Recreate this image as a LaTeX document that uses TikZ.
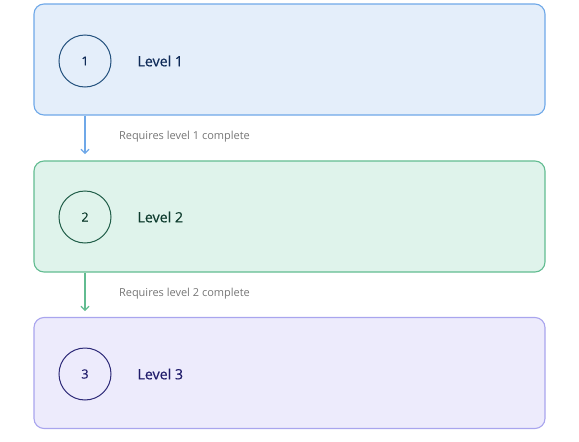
\documentclass[tikz,border=0pt]{standalone}
\usepackage{fontspec}
\setmainfont{Open Sans}
\newfontfamily\medfont{Open Sans}[FakeBold=0.5]
\usetikzlibrary{arrows.meta}
\definecolor{bAfill}{HTML}{E4EEFA}
\definecolor{bAdraw}{HTML}{6FA8E8}
\definecolor{bBfill}{HTML}{DFF3EB}
\definecolor{bBdraw}{HTML}{62BC91}
\definecolor{bCfill}{HTML}{EDEBFC}
\definecolor{bCdraw}{HTML}{A9A5EE}
\definecolor{cAdraw}{HTML}{24527E}
\definecolor{cBdraw}{HTML}{215E49}
\definecolor{cCdraw}{HTML}{2E2A78}
\definecolor{tA}{HTML}{0E2A57}
\definecolor{tB}{HTML}{0D3B2D}
\definecolor{tC}{HTML}{201C6B}
\definecolor{lblgray}{HTML}{767676}
\tikzset{
  x=1pt,y=1pt,
  levelbox/.style={draw=#1, rounded corners=10pt, line width=1.1pt, minimum width=511pt, minimum height=111pt, inner sep=0pt},
  numcirc/.style={circle, line width=1pt, minimum size=52pt, inner sep=0pt, font=\medfont\fontsize{12.5}{14}\selectfont},
  leveltext/.style={anchor=west, font=\medfont\fontsize{14.2}{16}\selectfont},
  req/.style={anchor=west, font=\fontsize{11}{13}\selectfont, text=lblgray},
  conn/.style={line width=1.1pt, -{Straight Barb[length=4pt,width=8pt]}},
}
\begin{document}
\begin{tikzpicture}
\useasboundingbox (0,0) rectangle (579,-442);
\node[levelbox=bAdraw, fill=bAfill] (box1) at (289.5,-59.5) {};
\node[levelbox=bBdraw, fill=bBfill] (box2) at (289.5,-216.5) {};
\node[levelbox=bCdraw, fill=bCfill] (box3) at (289.5,-373) {};
\node[numcirc, draw=cAdraw, text=tA] (c1) at (85,-61) {1};
\node[numcirc, draw=cBdraw, text=tB] (c2) at (85,-217) {2};
\node[numcirc, draw=cCdraw, text=tC] (c3) at (85,-374) {3};
\node[leveltext, text=tA] (t1) at (134,-61) {Level 1};
\node[leveltext, text=tB] (t2) at (134,-217) {Level 2};
\node[leveltext, text=tC] (t3) at (134,-374) {Level 3};
\coordinate (a1e) at (85,-154);
\coordinate (a2e) at (85,-311);
\draw[conn, draw=bAdraw] (box1.south -| c1) -- (a1e);
\draw[conn, draw=bBdraw] (box2.south -| c2) -- (a2e);
\node[req] (r1) at (115.5,-137) {Requires level 1 complete};
\node[req] (r2) at (115.5,-294) {Requires level 2 complete};
\end{tikzpicture}
\end{document}
